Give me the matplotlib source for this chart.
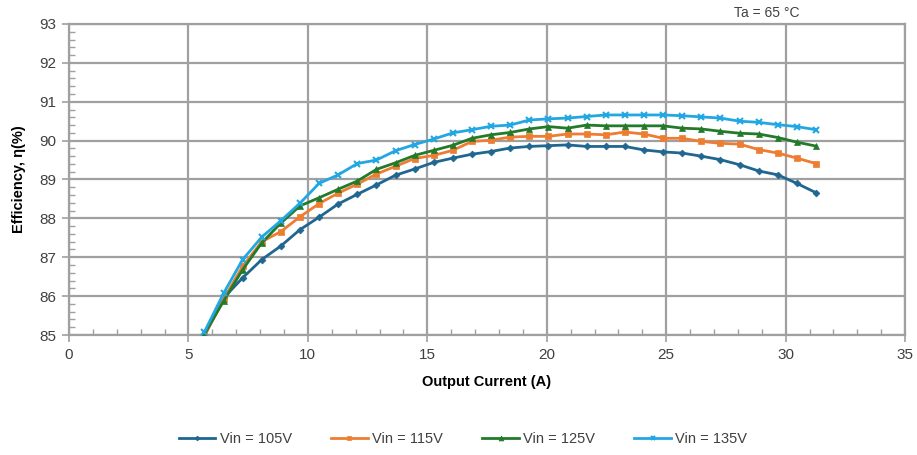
import numpy as np
import matplotlib
matplotlib.use("Agg")
import matplotlib.pyplot as plt
from matplotlib.ticker import MultipleLocator

plt.rcParams['font.family'] = ['Liberation Sans', 'DejaVu Sans']

# output current (A), 33 points spaced ~0.8 A
current = [5.67, 6.47, 7.27, 8.07, 8.87, 9.67, 10.47, 11.27, 12.07, 12.87, 13.67,
           14.47, 15.27, 16.07, 16.87, 17.67, 18.47, 19.27, 20.07, 20.87, 21.67,
           22.47, 23.27, 24.07, 24.87, 25.67, 26.47, 27.27, 28.07, 28.87, 29.67,
           30.47, 31.27]

eff_105 = [85.00, 85.95, 86.47, 86.94, 87.29, 87.71, 88.03, 88.37, 88.62, 88.86, 89.11,
           89.27, 89.44, 89.55, 89.65, 89.72, 89.81, 89.85, 89.87, 89.89, 89.85,
           89.85, 89.85, 89.76, 89.71, 89.68, 89.60, 89.51, 89.38, 89.22, 89.12,
           88.90, 88.66]
eff_115 = [84.97, 85.92, 86.77, 87.40, 87.66, 88.04, 88.38, 88.65, 88.88, 89.14, 89.34,
           89.54, 89.62, 89.75, 89.98, 90.01, 90.09, 90.11, 90.11, 90.17, 90.17,
           90.15, 90.22, 90.17, 90.06, 90.06, 89.98, 89.93, 89.91, 89.77, 89.68,
           89.55, 89.41]
eff_125 = [85.02, 85.87, 86.68, 87.37, 87.88, 88.32, 88.53, 88.75, 88.96, 89.26, 89.43,
           89.62, 89.75, 89.88, 90.06, 90.15, 90.21, 90.30, 90.36, 90.32, 90.40,
           90.38, 90.38, 90.38, 90.38, 90.32, 90.30, 90.24, 90.19, 90.17, 90.08,
           89.96, 89.86]
eff_135 = [85.08, 86.07, 86.94, 87.52, 87.94, 88.39, 88.90, 89.12, 89.41, 89.50, 89.74,
           89.90, 90.04, 90.20, 90.28, 90.37, 90.40, 90.53, 90.56, 90.58, 90.62,
           90.66, 90.66, 90.66, 90.66, 90.64, 90.61, 90.58, 90.50, 90.47, 90.41,
           90.36, 90.28]

series = [
    ("Vin = 105V", eff_105, "#1f6691", "D", 3.5),
    ("Vin = 115V", eff_115, "#ed7d31", "s", 4.5),
    ("Vin = 125V", eff_125, "#237a2b", "^", 5),
    ("Vin = 135V", eff_135, "#22a7e3", "x", 4.5),
]

fig = plt.figure(figsize=(9.17, 4.55), dpi=100)
ax = fig.add_axes([0.0752, 0.2637, 0.9118, 0.6836])

for label, vals, color, marker, ms in series:
    ax.plot(current, vals, color=color, marker=marker, markersize=ms,
            linewidth=2, markeredgewidth=1.5 if marker == "x" else 0.5,
            label=label, clip_on=True, zorder=3)

ax.set_xlim(0, 35)
ax.set_ylim(85, 93)
ax.xaxis.set_major_locator(MultipleLocator(5))
ax.xaxis.set_minor_locator(MultipleLocator(1))
ax.yaxis.set_major_locator(MultipleLocator(1))
ax.yaxis.set_minor_locator(MultipleLocator(0.2))

grid_color = "#a0a0a0"
ax.grid(which="major", color=grid_color, linewidth=1.6)
ax.set_axisbelow(True)
for s in ax.spines.values():
    s.set_color(grid_color)
    s.set_linewidth(1.6)

ax.tick_params(which="major", direction="out", length=5, width=1.2, color=grid_color,
               labelsize=11, labelcolor="#404040", pad=4)
ax.tick_params(which="minor", direction="in", length=4, width=1.0, color=grid_color)

ax.set_xlabel("Output Current (A)", fontsize=10.5, fontweight="bold", labelpad=10)
ax.set_ylabel("Efficiency, η(%)", fontsize=10.5, fontweight="bold", labelpad=10)

fig.text(0.836, 0.972, "Ta = 65 °C", fontsize=10, ha="center", va="center", color="#404040")

leg = fig.legend(loc="center", bbox_to_anchor=(0.505, 0.035), ncol=4, frameon=False,
                 fontsize=10.5, handlelength=2.5, columnspacing=2.7, handletextpad=0.3,
                 markerscale=0.7)
for t in leg.get_texts():
    t.set_color("#404040")

fig.savefig("out.png", dpi=100)
